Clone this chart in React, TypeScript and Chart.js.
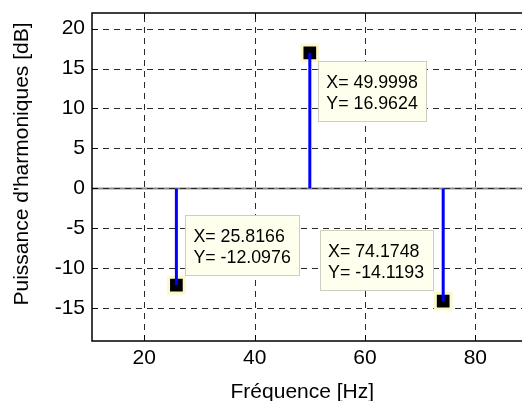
import React, { useEffect, useRef } from 'react';
import { Chart, registerables } from 'chart.js';

Chart.register(...registerables);

// ---- data ----
const frequencies = [25.8166, 49.9998, 74.1748];
const levels = [-12.0976, 16.9624, -14.1193];
const xTickValues = [20, 40, 60, 80];
const yTickValues = [-15, -10, -5, 0, 5, 10, 15, 20];
const xLimits = [10.52, 88.46];
const yLimits = [-19.1, 21.95];
const xAxisTitle = 'Fréquence [Hz]';
const yAxisTitle = "Puissance d'harmoniques [dB]";

const FONT = '"Liberation Sans", Arial, Helvetica, sans-serif';
const TICK_FONT_SIZE = 21;
const TIP_FONT_SIZE = 17.8;

// datatip placement relative to its point (layout only)
const tipLayout = [
  { dx: 8.5, dy: -10, ax: 'left', ay: 'bottom' },
  { dx: 8, dy: 8.3, ax: 'left', ay: 'top' },
  { dx: -10.6, dy: -11.2, ax: 'right', ay: 'bottom' },
];

const matlabPlugin = {
  id: 'matlabLook',
  beforeDatasetsDraw(chart: any) {
    const { ctx, chartArea: a, scales } = chart;
    const x = scales.x;
    const y = scales.y;
    ctx.save();
    ctx.beginPath();
    ctx.rect(a.left, a.top, a.right - a.left, a.bottom - a.top);
    ctx.clip();
    // stem baseline
    const y0 = y.getPixelForValue(0);
    ctx.strokeStyle = '#8c8c8c';
    ctx.lineWidth = 2;
    ctx.beginPath();
    ctx.moveTo(a.left, y0);
    ctx.lineTo(a.right, y0);
    ctx.stroke();
    // dashed grid
    ctx.strokeStyle = '#2a2a2a';
    ctx.lineWidth = 1;
    ctx.setLineDash([6, 5]);
    for (const v of xTickValues) {
      const px = Math.round(x.getPixelForValue(v)) + 0.5;
      ctx.beginPath();
      ctx.moveTo(px, a.bottom);
      ctx.lineTo(px, a.top);
      ctx.stroke();
    }
    for (const v of yTickValues) {
      const py = Math.round(y.getPixelForValue(v)) + 0.5;
      ctx.beginPath();
      ctx.moveTo(a.left, py);
      ctx.lineTo(a.right, py);
      ctx.stroke();
    }
    ctx.restore();
  },
  afterDatasetsDraw(chart: any) {
    const { ctx, chartArea: a, scales } = chart;
    const x = scales.x;
    const y = scales.y;
    ctx.save();
    // axes box (right side lies outside the picture)
    ctx.strokeStyle = '#000';
    ctx.lineWidth = 1.5;
    ctx.setLineDash([]);
    ctx.beginPath();
    ctx.moveTo(a.right + 2, a.top);
    ctx.lineTo(a.left, a.top);
    ctx.lineTo(a.left, a.bottom);
    ctx.lineTo(a.right + 2, a.bottom);
    ctx.stroke();
    // inward tick marks
    ctx.lineWidth = 1;
    const tl = 6;
    for (const v of xTickValues) {
      const px = Math.round(x.getPixelForValue(v)) + 0.5;
      ctx.beginPath();
      ctx.moveTo(px, a.bottom);
      ctx.lineTo(px, a.bottom - tl);
      ctx.moveTo(px, a.top);
      ctx.lineTo(px, a.top + tl);
      ctx.stroke();
    }
    for (const v of yTickValues) {
      const py = Math.round(y.getPixelForValue(v)) + 0.5;
      ctx.beginPath();
      ctx.moveTo(a.left, py);
      ctx.lineTo(a.left + tl, py);
      ctx.stroke();
    }
    // datatips
    ctx.font = `${TIP_FONT_SIZE}px ${FONT}`;
    frequencies.forEach((f, i) => {
      const lines = [`X= ${f.toFixed(4)}`, `Y= ${levels[i].toFixed(4)}`];
      const px = x.getPixelForValue(f);
      const py = y.getPixelForValue(levels[i]);
      const lay = tipLayout[i];
      const pad = 8.5;
      const tw = Math.max(...lines.map((l) => ctx.measureText(l).width));
      const w = tw + pad * 2;
      const h = 60;
      const left = lay.ax === 'left' ? px + lay.dx : px + lay.dx - w;
      const top = lay.ay === 'top' ? py + lay.dy : py + lay.dy - h;
      ctx.fillStyle = '#ffffee';
      ctx.fillRect(left, top, w, h);
      ctx.strokeStyle = '#cdcdc0';
      ctx.lineWidth = 1;
      ctx.strokeRect(Math.round(left) + 0.5, Math.round(top) + 0.5, Math.round(w), Math.round(h));
      ctx.fillStyle = '#000';
      ctx.textAlign = 'left';
      ctx.textBaseline = 'alphabetic';
      lines.forEach((l, k) => {
        ctx.fillText(l, left + pad, top + 27 + k * 21);
      });
    });
    ctx.restore();
  },
  afterDraw(chart: any) {
    const { ctx } = chart;
    ctx.save();
    ctx.fillStyle = '#000';
    ctx.font = `${TICK_FONT_SIZE}px ${FONT}`;
    ctx.textAlign = 'center';
    ctx.textBaseline = 'alphabetic';
    ctx.fillText(xAxisTitle, 302.3, 398);
    ctx.translate(27.5, 164);
    ctx.rotate(-Math.PI / 2);
    ctx.fillText(yAxisTitle, 0, 0);
    ctx.restore();
  },
};

export default function App() {
  const ref = useRef<HTMLCanvasElement | null>(null);
  useEffect(() => {
    if (!ref.current) return;
    const stemSets = frequencies.map((f, i) => ({
      label: `stem${i}`,
      data: [
        { x: f, y: 0 },
        { x: f, y: levels[i] },
      ],
      showLine: true,
      borderColor: '#0000ff',
      borderWidth: 3,
      pointRadius: 0,
      borderCapStyle: 'butt',
    }));
    const markerSet = {
      label: 'markers',
      data: frequencies.map((f, i) => ({ x: f, y: levels[i] })),
      showLine: false,
      pointStyle: 'rect',
      pointRadius: 11.1,
      pointBorderWidth: 3,
      pointBackgroundColor: '#000000',
      pointBorderColor: '#fbf9cc',
      clip: false,
    };
    const chart = new Chart(ref.current, {
      type: 'scatter',
      data: { datasets: [...stemSets, markerSet] as any },
      plugins: [matlabPlugin],
      options: {
        responsive: false,
        animation: false,
        events: [],
        layout: { autoPadding: false, padding: { top: 13, left: 0, right: 0, bottom: 0 } },
        plugins: { legend: { display: false }, tooltip: { enabled: false }, title: { display: false } },
        scales: {
          x: {
            type: 'linear',
            min: xLimits[0],
            max: xLimits[1],
            grid: { display: false, drawTicks: false },
            border: { display: false },
            afterBuildTicks: (s: any) => {
              s.ticks = xTickValues.map((value) => ({ value }));
            },
            afterFit: (s: any) => {
              s.height = 60;
              s.paddingLeft = 0;
              s.paddingRight = 0;
            },
            ticks: {
              padding: 5,
              maxRotation: 0,
              autoSkip: false,
              color: '#000',
              font: { family: FONT, size: TICK_FONT_SIZE },
              callback: (v: any) => String(v),
            },
          },
          y: {
            type: 'linear',
            min: yLimits[0],
            max: yLimits[1],
            grid: { display: false, drawTicks: false },
            border: { display: false },
            afterBuildTicks: (s: any) => {
              s.ticks = yTickValues.map((value) => ({ value }));
            },
            afterFit: (s: any) => {
              s.width = 92;
              s.paddingTop = 0;
              s.paddingBottom = 0;
            },
            ticks: {
              padding: 7,
              autoSkip: false,
              color: '#000',
              font: { family: FONT, size: TICK_FONT_SIZE },
              callback: (v: any) => String(v),
            },
          },
        },
      } as any,
    });
    return () => chart.destroy();
  }, []);
  return (
    <div style={{ position: 'fixed', left: 0, top: 0, width: 522, height: 401, background: '#fff' }}>
      <canvas ref={ref} width={522} height={401} style={{ display: 'block' }} />
    </div>
  );
}
